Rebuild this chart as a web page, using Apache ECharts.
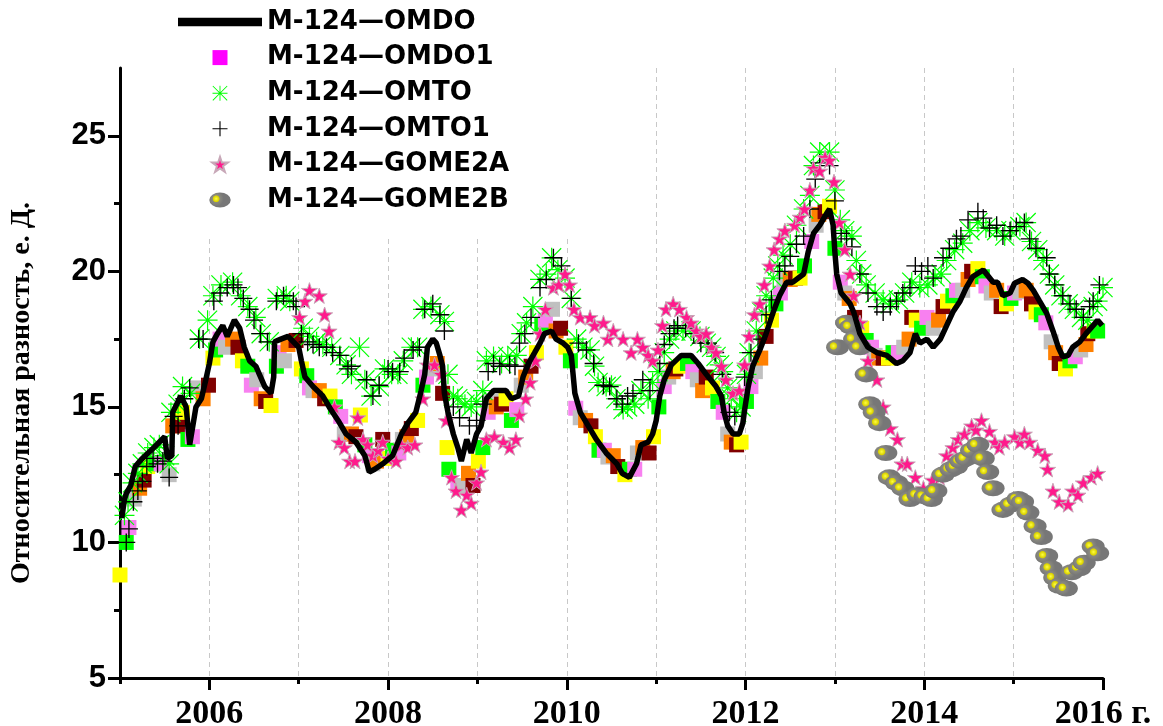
<!DOCTYPE html>
<html>
<head>
<meta charset="utf-8">
<title>M-124</title>
<script src="https://cdn.jsdelivr.net/npm/echarts@6/dist/echarts.min.js"></script>
<style>
  html, body { margin: 0; padding: 0; background: #fff; }
  #chart { width: 1163px; height: 726px; }
</style>
</head>
<body>
<div id="chart"></div>
<script>
// ticks / labels
const evenYears = [2006, 2008, 2010, 2012, 2014, 2016]
const yMajor = [5, 10, 15, 20, 25]
const yMinor = [7.5, 12.5, 17.5, 22.5]

// square colours cycle in OMDO1
const squareColors = ['#ffff00', '#00ff00', '#f880f0', '#c0c0c0', '#ff8000', '#800000']

// M-124—OMDO (line)
const omdo = [
  [2005.02, 10.9], [2005.05, 11.6], [2005.07, 11.8], [2005.12, 12.1], [2005.17, 12.8], [2005.25, 13.1],
  [2005.38, 13.5], [2005.50, 13.9], [2005.53, 13.1], [2005.58, 13.2], [2005.59, 14.8], [2005.68, 15.4],
  [2005.74, 15.0], [2005.78, 13.6], [2005.81, 14.2], [2005.85, 15.0], [2005.91, 15.3], [2005.96, 16.0],
  [2006.00, 16.6], [2006.04, 17.4], [2006.09, 17.7], [2006.15, 18.0], [2006.20, 17.6], [2006.28, 18.2],
  [2006.34, 17.9], [2006.39, 17.2], [2006.45, 16.7], [2006.52, 16.5], [2006.56, 16.2], [2006.62, 15.75],
  [2006.69, 15.5], [2006.72, 16.1], [2006.73, 17.4], [2006.80, 17.5], [2006.88, 17.6], [2007.00, 17.2],
  [2007.03, 16.7], [2007.07, 16.1], [2007.16, 15.75], [2007.27, 15.4], [2007.35, 14.95], [2007.44, 14.5],
  [2007.53, 14.0], [2007.64, 13.7], [2007.74, 13.2], [2007.79, 12.6], [2007.85, 12.7], [2007.94, 12.9],
  [2008.05, 13.2], [2008.15, 14.0], [2008.22, 14.4], [2008.31, 14.8], [2008.37, 15.6], [2008.41, 16.2],
  [2008.44, 17.2], [2008.50, 17.5], [2008.54, 17.35], [2008.58, 16.9], [2008.61, 16.5], [2008.63, 15.5],
  [2008.67, 14.8], [2008.73, 14.0], [2008.78, 13.5], [2008.82, 13.0], [2008.88, 13.8], [2008.93, 13.3],
  [2008.99, 14.0], [2009.04, 14.3], [2009.10, 15.3], [2009.18, 15.6], [2009.25, 15.6], [2009.32, 15.6],
  [2009.38, 15.3], [2009.46, 15.4], [2009.51, 16.1], [2009.57, 16.6], [2009.64, 17.0], [2009.70, 17.35],
  [2009.75, 17.7], [2009.83, 17.8], [2009.88, 17.5], [2009.96, 17.35], [2010.01, 17.2], [2010.05, 16.9],
  [2010.07, 16.2], [2010.09, 15.5], [2010.15, 14.8], [2010.24, 14.3], [2010.33, 13.8], [2010.44, 13.3],
  [2010.56, 12.9], [2010.62, 12.55], [2010.70, 12.4], [2010.78, 12.9], [2010.83, 13.6], [2010.91, 13.7],
  [2010.96, 14.0], [2011.00, 14.5], [2011.04, 15.4], [2011.09, 16.0], [2011.17, 16.55], [2011.28, 16.9],
  [2011.39, 16.9], [2011.47, 16.6], [2011.56, 16.2], [2011.67, 15.75], [2011.73, 15.4], [2011.76, 14.8],
  [2011.80, 14.3], [2011.86, 14.0], [2011.93, 14.0], [2011.97, 14.4], [2011.99, 14.9], [2012.03, 15.75],
  [2012.08, 16.5], [2012.16, 17.1], [2012.23, 17.7], [2012.31, 18.5], [2012.38, 19.1], [2012.46, 19.6],
  [2012.53, 19.6], [2012.65, 19.9], [2012.70, 20.7], [2012.76, 21.4], [2012.83, 21.7], [2012.91, 22.15],
  [2012.94, 22.3], [2012.98, 21.7], [2013.00, 20.7], [2013.02, 19.9], [2013.07, 19.2], [2013.17, 18.8],
  [2013.21, 18.5], [2013.28, 17.7], [2013.37, 17.2], [2013.47, 17.0], [2013.58, 16.9], [2013.69, 16.6],
  [2013.76, 16.7], [2013.84, 17.0], [2013.90, 17.7], [2013.95, 17.35], [2014.03, 17.5], [2014.10, 17.2],
  [2014.18, 17.5], [2014.25, 18.0], [2014.32, 18.5], [2014.40, 18.9], [2014.47, 19.4], [2014.54, 19.8],
  [2014.66, 20.05], [2014.77, 19.6], [2014.82, 19.6], [2014.88, 19.1], [2014.96, 19.2], [2015.01, 19.56],
  [2015.10, 19.7], [2015.16, 19.56], [2015.22, 19.3], [2015.29, 18.9], [2015.37, 18.45], [2015.44, 17.8],
  [2015.50, 17.2], [2015.55, 16.85], [2015.61, 16.9], [2015.66, 17.2], [2015.74, 17.4], [2015.81, 17.7],
  [2015.89, 18.0], [2015.94, 18.2], [2015.99, 18.0]
]

// M-124—OMDO1 (squares)
const omdo1 = [
  [2005.00, 8.8], [2005.07, 10.0], [2005.10, 10.55], [2005.16, 11.6], [2005.22, 12.0], [2005.27, 12.3],
  [2005.31, 12.8], [2005.40, 12.9], [2005.46, 12.9], [2005.55, 12.5], [2005.59, 14.3], [2005.65, 14.3],
  [2005.70, 14.8], [2005.76, 13.8], [2005.81, 13.9], [2005.87, 15.7], [2005.93, 15.3], [2005.99, 15.8],
  [2006.04, 16.8], [2006.07, 17.1], [2006.12, 17.5], [2006.18, 17.2], [2006.26, 17.5], [2006.32, 17.2],
  [2006.37, 16.7], [2006.43, 16.5], [2006.47, 15.8], [2006.53, 16.0], [2006.58, 15.3], [2006.63, 15.2],
  [2006.69, 15.05], [2006.75, 16.5], [2006.78, 17.0], [2006.84, 16.7], [2006.88, 17.3], [2006.97, 17.45],
  [2007.03, 16.4], [2007.09, 16.15], [2007.12, 15.7], [2007.16, 15.6], [2007.23, 15.6], [2007.29, 15.3],
  [2007.35, 15.4], [2007.41, 15.0], [2007.47, 14.65], [2007.51, 14.0], [2007.59, 14.0], [2007.64, 13.9],
  [2007.69, 14.7], [2007.74, 13.6], [2007.79, 13.2], [2007.83, 12.9], [2007.87, 13.0], [2007.94, 13.8],
  [2008.00, 13.1], [2008.05, 13.4], [2008.12, 13.3], [2008.16, 13.8], [2008.21, 13.9], [2008.26, 14.2],
  [2008.33, 14.5], [2008.39, 15.8], [2008.43, 16.1], [2008.48, 16.4], [2008.55, 16.6], [2008.61, 15.5],
  [2008.66, 13.5], [2008.68, 12.7], [2008.78, 12.1], [2008.82, 12.1], [2008.90, 12.55], [2008.95, 12.1],
  [2009.01, 13.0], [2009.06, 13.5], [2009.12, 14.8], [2009.16, 15.2], [2009.21, 15.0], [2009.27, 15.1],
  [2009.32, 15.3], [2009.38, 14.5], [2009.44, 14.9], [2009.49, 15.8], [2009.54, 16.1], [2009.60, 16.5],
  [2009.66, 17.0], [2009.72, 18.0], [2009.76, 18.2], [2009.84, 18.6], [2009.88, 17.8], [2009.93, 17.9],
  [2009.99, 17.2], [2010.04, 16.7], [2010.10, 14.95], [2010.15, 14.6], [2010.21, 14.5], [2010.27, 14.3],
  [2010.32, 13.9], [2010.36, 13.4], [2010.42, 13.4], [2010.46, 13.15], [2010.52, 13.2], [2010.57, 12.8],
  [2010.65, 12.5], [2010.70, 12.7], [2010.76, 12.7], [2010.79, 13.3], [2010.85, 13.5], [2010.92, 13.3],
  [2010.97, 13.9], [2011.03, 15.0], [2011.09, 15.75], [2011.14, 16.1], [2011.19, 16.3], [2011.22, 16.4],
  [2011.27, 16.5], [2011.35, 16.6], [2011.41, 16.3], [2011.46, 16.0], [2011.52, 15.6], [2011.56, 16.1],
  [2011.63, 15.7], [2011.69, 15.2], [2011.75, 14.8], [2011.80, 14.0], [2011.84, 13.7], [2011.90, 13.6],
  [2011.95, 13.7], [2012.01, 15.2], [2012.06, 15.75], [2012.11, 16.3], [2012.17, 16.8], [2012.23, 17.6],
  [2012.29, 18.2], [2012.34, 18.8], [2012.39, 19.2], [2012.43, 19.7], [2012.50, 19.7], [2012.56, 19.75],
  [2012.61, 19.75], [2012.66, 20.2], [2012.74, 21.1], [2012.79, 21.7], [2012.82, 22.1], [2012.89, 22.2],
  [2012.94, 22.4], [2013.00, 20.85], [2013.06, 19.6], [2013.11, 19.2], [2013.16, 19.0], [2013.22, 18.3],
  [2013.30, 17.9], [2013.35, 17.45], [2013.41, 17.2], [2013.45, 16.9], [2013.49, 16.8], [2013.54, 16.8],
  [2013.60, 16.8], [2013.65, 17.0], [2013.71, 17.0], [2013.77, 17.2], [2013.83, 17.5], [2013.86, 18.3],
  [2013.91, 18.2], [2013.97, 17.9], [2014.03, 18.3], [2014.10, 17.9], [2014.16, 18.2], [2014.21, 18.7],
  [2014.26, 18.9], [2014.32, 19.1], [2014.36, 19.3], [2014.43, 19.3], [2014.49, 19.7], [2014.53, 20.0],
  [2014.60, 20.1], [2014.65, 19.8], [2014.69, 19.46], [2014.75, 19.2], [2014.81, 19.3], [2014.86, 18.7],
  [2014.92, 18.8], [2014.97, 19.0], [2015.01, 19.2], [2015.07, 19.25], [2015.14, 19.3], [2015.20, 18.8],
  [2015.25, 18.5], [2015.31, 18.4], [2015.36, 18.1], [2015.42, 17.4], [2015.47, 17.0], [2015.51, 16.6],
  [2015.58, 16.4], [2015.63, 16.7], [2015.69, 16.85], [2015.75, 17.1], [2015.81, 17.3], [2015.83, 17.7],
  [2015.90, 17.8], [2015.94, 17.8]
]

// M-124—OMTO (asterisks)
const omto = [
  [2005.05, 11.0], [2005.09, 11.5], [2005.14, 12.2], [2005.20, 12.55], [2005.25, 12.9], [2005.31, 13.3],
  [2005.38, 13.5], [2005.44, 13.6], [2005.50, 13.2], [2005.55, 12.9], [2005.57, 14.8], [2005.65, 15.1],
  [2005.70, 15.75], [2005.79, 15.5], [2005.89, 17.5], [2005.98, 18.2], [2006.04, 19.1], [2006.13, 19.5],
  [2006.26, 19.6], [2006.35, 19.1], [2006.43, 18.7], [2006.52, 18.3], [2006.58, 17.7], [2006.67, 17.4],
  [2006.76, 19.0], [2006.86, 19.1], [2006.90, 18.9], [2007.05, 17.9], [2007.12, 17.6], [2007.20, 17.4],
  [2007.27, 17.3], [2007.37, 17.2], [2007.46, 16.9], [2007.53, 16.55], [2007.59, 16.2], [2007.68, 17.2],
  [2007.74, 16.0], [2007.81, 15.4], [2007.90, 15.75], [2007.96, 16.4], [2008.04, 16.2], [2008.11, 16.2],
  [2008.17, 16.7], [2008.26, 17.2], [2008.33, 17.2], [2008.39, 18.6], [2008.48, 18.7], [2008.58, 18.4],
  [2008.63, 18.15], [2008.67, 16.2], [2008.73, 15.4], [2008.78, 15.3], [2008.86, 15.1], [2008.93, 15.0],
  [2008.99, 15.2], [2009.06, 15.6], [2009.10, 16.7], [2009.18, 16.86], [2009.27, 16.6], [2009.34, 16.86],
  [2009.44, 16.9], [2009.49, 17.7], [2009.55, 18.1], [2009.62, 18.7], [2009.70, 19.7], [2009.77, 19.9],
  [2009.83, 20.5], [2009.90, 20.06], [2009.98, 19.75], [2010.05, 19.0], [2010.11, 17.5], [2010.18, 17.2],
  [2010.26, 17.1], [2010.31, 16.5], [2010.35, 15.9], [2010.44, 15.75], [2010.50, 15.8], [2010.55, 15.3],
  [2010.63, 14.9], [2010.68, 15.0], [2010.76, 15.1], [2010.83, 15.6], [2010.91, 15.3], [2010.96, 15.9],
  [2011.02, 16.3], [2011.09, 17.0], [2011.15, 17.5], [2011.22, 17.8], [2011.30, 17.8], [2011.39, 17.8],
  [2011.49, 17.6], [2011.56, 17.35], [2011.62, 17.2], [2011.67, 16.86], [2011.71, 16.55], [2011.75, 16.3],
  [2011.80, 15.7], [2011.84, 15.3], [2011.90, 14.8], [2011.95, 15.0], [2012.01, 16.2], [2012.04, 17.0],
  [2012.12, 17.8], [2012.18, 18.5], [2012.23, 19.1], [2012.31, 19.75], [2012.36, 20.2], [2012.42, 20.6],
  [2012.50, 21.0], [2012.57, 21.7], [2012.65, 22.3], [2012.72, 22.8], [2012.76, 23.9], [2012.83, 24.4],
  [2012.94, 24.4], [2013.00, 23.0], [2013.06, 21.9], [2013.11, 21.5], [2013.19, 21.3], [2013.24, 20.4],
  [2013.30, 19.9], [2013.35, 19.5], [2013.45, 19.2], [2013.54, 18.95], [2013.62, 18.8], [2013.71, 18.95],
  [2013.78, 19.2], [2013.86, 19.6], [2013.95, 19.4], [2014.04, 19.5], [2014.12, 19.8], [2014.19, 19.9],
  [2014.25, 20.4], [2014.34, 20.8], [2014.43, 21.04], [2014.51, 21.5], [2014.60, 21.8], [2014.69, 21.6],
  [2014.81, 21.5], [2014.90, 21.3], [2014.97, 21.5], [2015.07, 21.65], [2015.14, 21.8], [2015.20, 21.1],
  [2015.27, 20.8], [2015.33, 20.4], [2015.40, 19.9], [2015.46, 19.5], [2015.53, 19.1], [2015.61, 18.8],
  [2015.68, 18.6], [2015.76, 18.3], [2015.83, 18.2], [2015.89, 18.7], [2015.94, 18.9], [2016.00, 19.4]
]

// M-124—OMTO1 (plus)
const omto1 = [
  [2005.07, 10.0], [2005.10, 10.5], [2005.15, 11.5], [2005.20, 11.9], [2005.25, 12.25], [2005.30, 12.8],
  [2005.37, 13.1], [2005.42, 12.9], [2005.48, 13.0], [2005.55, 12.4], [2005.60, 14.65], [2005.65, 14.3],
  [2005.72, 15.3], [2005.78, 15.7], [2005.88, 17.5], [2005.93, 17.5], [2006.05, 18.9], [2006.12, 19.2],
  [2006.20, 19.4], [2006.27, 19.5], [2006.32, 19.4], [2006.38, 19.0], [2006.45, 18.6], [2006.50, 18.2],
  [2006.57, 17.7], [2006.65, 17.4], [2006.75, 18.9], [2006.83, 19.1], [2006.94, 18.9], [2006.97, 18.7],
  [2007.03, 17.7], [2007.10, 17.4], [2007.16, 17.3], [2007.23, 17.2], [2007.31, 17.2], [2007.38, 17.0],
  [2007.46, 16.9], [2007.55, 16.4], [2007.59, 16.5], [2007.76, 16.0], [2007.83, 15.4], [2007.90, 15.8],
  [2008.00, 16.4], [2008.05, 16.3], [2008.13, 16.3], [2008.18, 16.8], [2008.28, 17.1], [2008.35, 17.2],
  [2008.41, 18.6], [2008.50, 18.8], [2008.58, 18.4], [2008.63, 17.8], [2008.73, 15.0], [2008.80, 14.6],
  [2008.91, 14.3], [2008.99, 14.5], [2009.06, 15.1], [2009.12, 16.3], [2009.18, 16.6], [2009.25, 16.5],
  [2009.36, 16.55], [2009.42, 16.5], [2009.47, 17.35], [2009.53, 17.7], [2009.60, 18.3], [2009.70, 19.4],
  [2009.77, 19.7], [2009.85, 20.5], [2009.94, 20.2], [2010.05, 19.0], [2010.13, 17.35], [2010.22, 17.1],
  [2010.30, 16.6], [2010.41, 15.8], [2010.48, 15.75], [2010.56, 15.3], [2010.62, 15.1], [2010.68, 15.4],
  [2010.74, 15.5], [2010.85, 16.0], [2010.93, 15.6], [2011.04, 16.6], [2011.09, 17.3], [2011.15, 17.7],
  [2011.20, 17.9], [2011.24, 18.0], [2011.33, 17.9], [2011.42, 17.7], [2011.50, 17.35], [2011.58, 17.35],
  [2011.66, 17.0], [2011.74, 16.2], [2011.82, 14.8], [2011.88, 14.65], [2011.99, 16.1], [2012.06, 17.0],
  [2012.14, 17.5], [2012.23, 18.4], [2012.29, 18.95], [2012.38, 20.0], [2012.44, 20.2], [2012.50, 20.55],
  [2012.57, 21.0], [2012.65, 21.3], [2012.72, 22.3], [2012.78, 23.4], [2012.83, 24.0], [2012.94, 23.9],
  [2013.00, 22.6], [2013.07, 21.4], [2013.13, 21.2], [2013.19, 20.9], [2013.28, 19.9], [2013.37, 19.2],
  [2013.47, 18.7], [2013.54, 18.5], [2013.62, 18.7], [2013.69, 18.9], [2013.76, 19.2], [2013.84, 19.4],
  [2013.90, 20.2], [2013.97, 20.0], [2014.04, 20.2], [2014.10, 19.75], [2014.21, 20.5], [2014.28, 20.85],
  [2014.36, 21.2], [2014.41, 21.3], [2014.49, 21.9], [2014.60, 22.2], [2014.66, 21.96], [2014.73, 21.6],
  [2014.81, 21.7], [2014.88, 21.3], [2014.96, 21.5], [2015.03, 21.65], [2015.12, 21.8], [2015.18, 21.2],
  [2015.25, 20.85], [2015.37, 20.5], [2015.40, 19.9], [2015.46, 19.5], [2015.55, 19.1], [2015.63, 18.8],
  [2015.70, 18.6], [2015.78, 18.3], [2015.85, 18.7], [2015.89, 18.9], [2015.96, 19.5]
]

// M-124—GOME2A (stars)
const gome2a = [
  [2007.01, 18.3], [2007.07, 18.9], [2007.12, 19.3], [2007.23, 19.1], [2007.29, 18.4], [2007.34, 17.8],
  [2007.40, 15.0], [2007.45, 13.7], [2007.51, 13.5], [2007.57, 13.0], [2007.63, 13.0], [2007.66, 14.6],
  [2007.72, 13.8], [2007.77, 13.6], [2007.83, 13.2], [2007.89, 13.4], [2007.94, 13.7], [2008.00, 13.1],
  [2008.09, 13.0], [2008.15, 13.6], [2008.22, 13.5], [2008.30, 13.6], [2008.39, 15.3], [2008.44, 16.55],
  [2008.52, 16.55], [2008.59, 16.2], [2008.65, 14.5], [2008.71, 12.4], [2008.76, 11.9], [2008.82, 11.2],
  [2008.88, 11.75], [2008.93, 11.45], [2008.99, 12.2], [2009.04, 12.6], [2009.10, 13.8], [2009.19, 13.9],
  [2009.29, 13.7], [2009.36, 13.5], [2009.43, 13.8], [2009.47, 14.7], [2009.54, 15.3], [2009.59, 15.9],
  [2009.65, 16.7], [2009.70, 17.7], [2009.76, 18.6], [2009.85, 19.4], [2009.91, 19.5], [2009.98, 19.9],
  [2010.03, 19.5], [2010.08, 18.6], [2010.15, 18.3], [2010.26, 18.3], [2010.31, 18.0], [2010.41, 18.1],
  [2010.46, 17.5], [2010.52, 17.8], [2010.63, 17.5], [2010.72, 17.0], [2010.79, 17.5], [2010.85, 17.2],
  [2010.91, 16.9], [2010.96, 16.7], [2011.02, 17.1], [2011.07, 18.0], [2011.11, 18.6], [2011.19, 18.8],
  [2011.26, 18.6], [2011.34, 18.3], [2011.39, 18.1], [2011.45, 17.8], [2011.50, 17.6], [2011.56, 17.7],
  [2011.62, 17.2], [2011.67, 17.0], [2011.73, 16.5], [2011.78, 16.0], [2011.86, 15.5], [2011.93, 15.6],
  [2011.99, 16.55], [2012.04, 17.6], [2012.10, 18.4], [2012.16, 18.8], [2012.21, 19.5], [2012.27, 20.2],
  [2012.32, 20.8], [2012.38, 21.2], [2012.44, 21.5], [2012.55, 21.7], [2012.61, 22.0], [2012.66, 22.3],
  [2012.72, 23.0], [2012.76, 23.8], [2012.83, 23.7], [2012.89, 24.2], [2012.94, 24.1], [2012.99, 23.3],
  [2013.05, 21.8], [2013.11, 20.8], [2013.17, 19.9], [2013.21, 19.1], [2013.28, 18.1], [2013.37, 16.7],
  [2013.47, 16.0], [2013.54, 15.0], [2013.62, 14.2], [2013.70, 13.8], [2013.75, 12.9], [2013.81, 12.9],
  [2013.90, 12.4], [2013.99, 12.0], [2014.09, 12.3], [2014.17, 12.4], [2014.25, 13.2], [2014.32, 13.5],
  [2014.38, 13.8], [2014.45, 14.0], [2014.53, 14.3], [2014.58, 14.15], [2014.64, 14.5], [2014.73, 14.1],
  [2014.79, 13.7], [2014.84, 13.5], [2014.90, 13.7], [2015.01, 13.9], [2015.07, 13.7], [2015.12, 14.0],
  [2015.18, 13.7], [2015.27, 13.4], [2015.35, 13.2], [2015.38, 12.7], [2015.44, 11.9], [2015.51, 11.5],
  [2015.61, 11.4], [2015.66, 11.9], [2015.72, 11.75], [2015.78, 12.2], [2015.87, 12.4], [2015.94, 12.55]
]

// M-124—GOME2B (ellipses)
const gome2b = [
  [2013.03, 17.2], [2013.13, 18.1], [2013.18, 17.96], [2013.22, 17.5], [2013.28, 17.2], [2013.35, 16.2],
  [2013.39, 15.1], [2013.44, 14.8], [2013.50, 14.4], [2013.57, 13.3], [2013.61, 12.4], [2013.69, 12.2],
  [2013.76, 12.0], [2013.84, 11.6], [2013.93, 11.75], [2014.01, 11.7], [2014.08, 11.6], [2014.13, 11.9],
  [2014.21, 12.5], [2014.30, 12.7], [2014.36, 12.8], [2014.41, 13.0], [2014.47, 13.1], [2014.53, 13.4],
  [2014.60, 13.6], [2014.66, 13.1], [2014.71, 12.6], [2014.77, 12.0], [2014.88, 11.2], [2014.97, 11.4],
  [2015.05, 11.6], [2015.10, 11.5], [2015.16, 11.1], [2015.24, 10.6], [2015.31, 10.2], [2015.37, 9.5],
  [2015.42, 9.05], [2015.46, 8.7], [2015.51, 8.4], [2015.59, 8.3], [2015.65, 8.9], [2015.74, 9.05],
  [2015.79, 9.25], [2015.89, 9.85], [2015.94, 9.6]
]

// symbol shapes
const squarePath = 'path://M0,0L10,0L10,10L0,10Z'
const asteriskPath = 'path://M9.4,0L10.6,0L10.6,20L9.4,20ZM0,9.4L20,9.4L20,10.6L0,10.6ZM0,0.85L0.85,0L20,19.15L19.15,20ZM19.15,0L20,0.85L0.85,20L0,19.15Z'
const plusPath = 'path://M9.25,0L10.75,0L10.75,20L9.25,20ZM0,9.25L20,9.25L20,10.75L0,10.75Z'
const starPath = 'path://M10,0L12.35,7.2L19.9,7.2L13.8,11.7L16.2,19L10,14.5L3.8,19L6.2,11.7L0.1,7.2L7.65,7.2Z'
const ellipsePath = 'path://M0,7A10,7,0,1,1,20,7A10,7,0,1,1,0,7Z'
const barPath = 'path://M0,0L30,0L30,3L0,3Z'

const chart = echarts.init(document.getElementById('chart'))

const option = {
  animation: false,
  backgroundColor: '#fff',
  grid: { left: 120, right: 60, top: 68, bottom: 48, outerBoundsMode: 'none' },
  legend: {
    orient: 'vertical',
    left: 178,
    top: 0,
    padding: [9, 60, 26, 0],
    backgroundColor: '#fff',
    itemWidth: 84,
    itemHeight: 15,
    itemGap: 9.6,
    textStyle: { fontFamily: 'DejaVu Sans', fontWeight: 'bold', fontSize: 26, color: '#000' },
    data: [
      { name: 'M-124—OMDO', icon: barPath, lineStyle: { width: 5, color: '#000' } },
      { name: 'M-124—OMDO1', icon: squarePath },
      'M-124—OMTO',
      'M-124—OMTO1',
      'M-124—GOME2A',
      'M-124—GOME2B'
    ]
  },
  xAxis: [
    {
      type: 'value',
      min: 2005,
      max: 2016,
      interval: 1,
      axisLine: { lineStyle: { color: '#000', width: 3 } },
      axisTick: { length: 6, lineStyle: { color: '#000', width: 3 } },
      axisLabel: {
        margin: 19,
        fontFamily: 'Liberation Serif',
        fontWeight: 'bold',
        fontSize: 34,
        color: '#000',
        formatter: v => (evenYears.indexOf(v) < 0 ? '' : (v === 2016 ? '2016 г.' : String(v)))
      },
      splitLine: {
        show: true,
        showMinLine: false,
        showMaxLine: false,
        lineStyle: { color: '#c8c8c8', width: 1, type: [5, 4] }
      }
    },
    {
      // long ticks on even years
      type: 'value',
      min: 2005,
      max: 2016,
      interval: 1,
      position: 'bottom',
      axisLine: { show: false },
      axisTick: { customValues: evenYears, length: 12, lineStyle: { color: '#000', width: 3 } },
      axisLabel: { show: false },
      splitLine: { show: false }
    }
  ],
  yAxis: [
    {
      type: 'value',
      min: 5,
      max: 27.5,
      interval: 5,
      name: 'Относительная разность, е. Д.',
      nameLocation: 'middle',
      nameGap: 84,
      nameTextStyle: { fontFamily: 'Liberation Serif', fontWeight: 'bold', fontSize: 28, color: '#000', padding: [0, 40, 0, 0] },
      axisLine: { show: true, lineStyle: { color: '#000', width: 3 } },
      axisTick: { show: true, customValues: yMajor, length: 12, lineStyle: { color: '#000', width: 3 } },
      axisLabel: {
        customValues: yMajor,
        margin: 14,
        fontFamily: 'Liberation Sans',
        fontWeight: 'bold',
        fontSize: 31,
        color: '#000'
      },
      splitLine: { show: false }
    },
    {
      // minor ticks
      type: 'value',
      min: 5,
      max: 27.5,
      position: 'left',
      axisLine: { show: false },
      axisTick: { show: true, customValues: yMinor, length: 6, lineStyle: { color: '#000', width: 3 } },
      axisLabel: { show: false },
      splitLine: { show: false }
    }
  ],
  series: [
    {
      name: 'M-124—OMDO',
      type: 'line',
      data: omdo,
      symbol: 'none',
      lineStyle: { color: '#000', width: 5.5 },
      itemStyle: { color: '#000' }
    },
    {
      name: 'M-124—OMDO1',
      type: 'scatter',
      symbol: squarePath,
      symbolSize: 15,
      symbolKeepAspect: true,
      itemStyle: { color: '#ff00ff', opacity: 1 },
      data: omdo1.map((p, i) => ({ value: p, itemStyle: { color: squareColors[i % squareColors.length] } }))
    },
    {
      name: 'M-124—OMTO',
      type: 'scatter',
      symbol: asteriskPath,
      symbolSize: 20,
      symbolKeepAspect: true,
      itemStyle: { color: '#00ff00', opacity: 1 },
      data: omto
    },
    {
      name: 'M-124—OMTO1',
      type: 'scatter',
      symbol: plusPath,
      symbolSize: 18,
      symbolKeepAspect: true,
      itemStyle: { color: '#000', opacity: 1 },
      data: omto1
    },
    {
      name: 'M-124—GOME2A',
      type: 'scatter',
      symbol: starPath,
      symbolSize: 16,
      symbolKeepAspect: true,
      itemStyle: { color: '#ff1a8c', borderColor: '#c8a8b8', borderWidth: 1, opacity: 1 },
      data: gome2a
    },
    {
      name: 'M-124—GOME2B',
      type: 'scatter',
      symbol: ellipsePath,
      symbolSize: 23,
      symbolKeepAspect: true,
      itemStyle: {
        opacity: 1,
        color: {
          type: 'radial', x: 0.32, y: 0.42, r: 0.5,
          colorStops: [
            { offset: 0, color: '#ffff40' },
            { offset: 0.4, color: '#d8d000' },
            { offset: 0.5, color: '#8a8a80' },
            { offset: 1, color: '#777777' }
          ]
        }
      },
      data: gome2b
    }
  ]
}

chart.setOption(option)
</script>
</body>
</html>
